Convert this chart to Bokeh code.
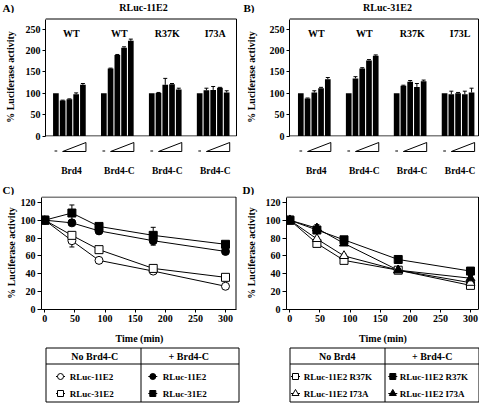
from bokeh.plotting import figure
from bokeh.models import Range1d, FixedTicker, Label
from bokeh.layouts import column, row
from bokeh.embed import file_html
from bokeh.resources import INLINE
from bokeh.core.properties import value

FONT = "Liberation Serif"

# ---------------- data: bar panels ----------------
title_a = "RLuc-11E2"
title_b = "RLuc-31E2"
heads_a = ["WT", "WT", "R37K", "I73A"]
heads_b = ["WT", "WT", "R37K", "I73L"]
feet = ["Brd4", "Brd4-C", "Brd4-C", "Brd4-C"]

a_brd4_wt = [100, 83, 86, 98, 120]
a_brd4c_wt = [100, 158, 190, 207, 223]
a_brd4c_r37k = [100, 101, 120, 121, 109]
a_brd4c_i73a = [100, 107, 108, 113, 102]
a_brd4_wt_err = [0, 1, 1, 3, 3]
a_brd4c_wt_err = [0, 1, 1, 2, 4]
a_brd4c_r37k_err = [0, 1, 15, 2, 3]
a_brd4c_i73a_err = [0, 5, 8, 1, 4]

b_brd4_wt = [100, 88, 102, 112, 133]
b_brd4c_wt = [100, 135, 158, 177, 188]
b_brd4c_r37k = [100, 118, 127, 115, 128]
b_brd4c_i73l = [100, 98, 100, 98, 102]
b_brd4_wt_err = [0, 1, 4, 2, 4]
b_brd4c_wt_err = [0, 4, 2, 2, 2]
b_brd4c_r37k_err = [0, 1, 3, 8, 3]
b_brd4c_i73l_err = [0, 7, 2, 7, 10]

bar_ticks = [0, 50, 100, 150, 200, 250]

# ---------------- data: time courses ----------------
time_min = [0, 45, 90, 180, 300]

c_11e2 = [100, 77, 55, 43, 26]
c_31e2 = [100, 83, 67, 46, 36]
c_11e2_brd4c = [100, 97, 88, 77, 65]
c_31e2_brd4c = [100, 108, 93, 83, 73]
c_11e2_err = [0, 7, 1, 2, 1]
c_31e2_err = [0, 3, 2, 3, 2]
c_11e2_brd4c_err = [0, 2, 2, 5, 3]
c_31e2_brd4c_err = [0, 9, 3, 9, 3]

d_r37k = [100, 74, 55, 44, 27]
d_i73a = [100, 79, 60, 44, 30]
d_r37k_brd4c = [100, 89, 78, 56, 43]
d_i73a_brd4c = [100, 91, 74, 44, 35]
d_r37k_err = [0, 2, 1, 1, 1]
d_i73a_err = [0, 2, 2, 1, 2]
d_r37k_brd4c_err = [0, 2, 2, 2, 2]
d_i73a_brd4c_err = [0, 4, 2, 2, 3]

line_yticks = [0, 20, 40, 60, 80, 100, 120]
line_xticks = [0, 50, 100, 150, 200, 250, 300]

legend_c_heads = ["No Brd4-C", "+ Brd4-C"]
legend_c_left = ["RLuc-11E2", "RLuc-31E2"]
legend_c_right = ["RLuc-11E2", "RLuc-31E2"]
legend_d_heads = ["No Brd4", "+ Brd4-C"]
legend_d_left = ["RLuc-11E2 R37K", "RLuc-11E2 I73A"]
legend_d_right = ["RLuc-11E2 R37K", "RLuc-11E2 I73A"]

panel_letters_top = ["A)", "B)"]
panel_letters_mid = ["C)", "D)"]

PPU_BAR_X = 6.75
PITCH = 7.1
BAR_W = 0.84


def base_fig(W, H, xr, yr, **kw):
    p = figure(width=W, height=H, x_range=xr, y_range=yr, output_backend="svg",
               toolbar_location=None, **kw)
    p.outline_line_color = None
    p.grid.visible = False
    p.background_fill_color = "white"
    p.border_fill_color = "white"
    return p


def style_axis(ax, tick_out, size):
    ax.axis_line_color = "black"
    ax.axis_line_width = 1
    ax.major_tick_in = 0
    ax.major_tick_out = tick_out
    ax.major_tick_line_color = "black"
    ax.minor_tick_line_color = None
    ax.major_label_text_font = FONT
    ax.major_label_text_font_style = "bold"
    ax.major_label_text_font_size = size
    ax.major_label_text_color = "black"
    ax.axis_label_text_font = FONT
    ax.axis_label_text_font_style = "bold"
    ax.axis_label_text_font_size = "10px"
    ax.axis_label_text_color = "black"


def txt(p, x, y, t, size, align="center"):
    p.text(x=x, y=y, text=t, text_font=value(FONT), text_font_style="bold",
           text_font_size=size, text_align=align, text_baseline="middle",
           text_color="black")


def strip(W, H, letters, letter_xs, titles, title_xs, y):
    p = base_fig(W, H, Range1d(0, W), Range1d(H, 0), x_axis_type=None, y_axis_type=None,
                 min_border_left=0, min_border_right=0, min_border_top=0, min_border_bottom=0)
    txt(p, letter_xs, [y] * len(letters), letters, "11px", align="left")
    if titles:
        txt(p, title_xs, [y] * len(titles), titles, "10px")
    return p


def bar_panel(heads, vals, errs, W, frame_l, frame_r, bar0_px, box_r_px, label_standoff):
    H = 128
    ft, fb, y0_in = 4, 123, 122.5
    ppu_y = 0.4268
    xr = Range1d((frame_l - bar0_px) / PPU_BAR_X, (frame_r - bar0_px) / PPU_BAR_X)
    yr = Range1d(-(fb - y0_in) / ppu_y, (y0_in - ft) / ppu_y)
    p = base_fig(W, H, xr, yr, x_axis_type=None,
                 min_border_left=frame_l, min_border_right=W - frame_r,
                 min_border_top=ft, min_border_bottom=H - fb)
    box_top = (y0_in - ft - 1.5) / ppu_y
    box_r = (box_r_px - bar0_px) / PPU_BAR_X
    style_axis(p.yaxis[0], 3, "10px")
    p.yaxis[0].ticker = FixedTicker(ticks=bar_ticks)
    p.yaxis[0].bounds = (0, box_top)
    p.yaxis[0].major_label_standoff = 2
    p.yaxis[0].axis_label = "% Luciferase activity"
    p.yaxis[0].axis_label_standoff = label_standoff

    # closed panel box (left side is the y axis)
    p.segment(x0=[xr.start, box_r, xr.start], y0=[box_top, box_top, 0],
              x1=[box_r, box_r, box_r], y1=[box_top, 0, 0],
              line_color="black", line_width=1)

    xs, tops, ex, e0, e1 = [], [], [], [], []
    for g, (v, e) in enumerate(zip(vals, errs)):
        for i, (vi, ei) in enumerate(zip(v, e)):
            x = g * PITCH + i
            xs.append(x)
            tops.append(vi)
            if ei > 0:
                ex.append(x); e0.append(vi); e1.append(vi + ei)
    p.quad(left=[x - BAR_W / 2 for x in xs], right=[x + BAR_W / 2 for x in xs],
           bottom=[0] * len(xs), top=tops, fill_color="black", line_color=None)
    p.segment(x0=ex, y0=e0, x1=ex, y1=e1, line_color="black", line_width=1)
    p.scatter(x=ex, y=e1, marker="dash", size=4, line_color="black", line_width=1)

    for g, h in enumerate(heads):
        p.add_layout(Label(x=g * PITCH + 2.3, y=240, text=h, text_font=FONT,
                           text_font_style="bold", text_font_size="10px",
                           text_align="center", text_baseline="middle",
                           text_color="black"))
    return p, xr


def wedge_strip(xr, W, frame_l, frame_r):
    H = 41
    p = base_fig(W, H, xr, Range1d(H, 0), x_axis_type=None, y_axis_type=None,
                 min_border_left=frame_l, min_border_right=W - frame_r,
                 min_border_top=0, min_border_bottom=0)
    gx = [g * PITCH for g in range(4)]
    p.patches(xs=[[x + 1.0, x + 4.45, x + 4.45] for x in gx],
              ys=[[10.0, 10.0, 1.0] for _ in gx],
              fill_color=None, line_color="black", line_width=1)
    p.segment(x0=[x - 0.2 for x in gx], y0=[9.5] * 4, x1=[x + 0.2 for x in gx],
              y1=[9.5] * 4, line_color="black", line_width=1)
    txt(p, [x + 2.3 for x in gx], [29.0] * 4, feet, "9.5px")
    return p


def line_panel(series, W, frame_l, frame_r, x0_px, box_r_px, label_standoff):
    H = 151
    ft, fb = 1, 114
    ppu_y, ppu_x = 0.8933, 0.6023
    xr = Range1d((frame_l - x0_px) / ppu_x, (frame_r - x0_px) / ppu_x)
    yr = Range1d(0, (fb - ft) / ppu_y)
    p = base_fig(W, H, xr, yr, min_border_left=frame_l, min_border_right=W - frame_r,
                 min_border_top=ft, min_border_bottom=H - fb)
    box_top = (fb - ft - 0.5) / ppu_y
    box_r = (box_r_px - x0_px) / ppu_x
    p.segment(x0=[xr.start, box_r], y0=[box_top, box_top], x1=[box_r, box_r], y1=[box_top, 0],
              line_color="black", line_width=1)
    style_axis(p.yaxis[0], 4, "10px")
    style_axis(p.xaxis[0], 3, "10px")
    p.yaxis.ticker = FixedTicker(ticks=line_yticks)
    p.yaxis.bounds = (0, box_top)
    p.yaxis.major_label_standoff = 2
    p.yaxis.axis_label = "% Luciferase activity"
    p.yaxis.axis_label_standoff = label_standoff
    p.xaxis.ticker = FixedTicker(ticks=line_xticks)
    p.xaxis.bounds = (xr.start, box_r)
    p.xaxis.major_label_standoff = 2
    p.xaxis.axis_label = "Time (min)"
    p.xaxis.axis_label_standoff = 8

    for ys, errs, marker, filled in series:
        p.line(time_min, ys, line_color="black", line_width=1)
        ex = [t for t, e in zip(time_min, errs) if e > 0]
        lo = [y - e for y, e in zip(ys, errs) if e > 0]
        hi = [y + e for y, e in zip(ys, errs) if e > 0]
        p.segment(x0=ex, y0=lo, x1=ex, y1=hi, line_color="black", line_width=1)
        p.scatter(x=ex + ex, y=lo + hi, marker="dash", size=5, line_color="black")
    for ys, errs, marker, filled in series:
        size = 9 if marker == "triangle" else 8
        p.scatter(time_min, ys, marker=marker, size=size, line_color="black",
                  line_width=1, fill_color="black" if filled else "white")
    return p


def legend_panel(W, box_l, box_r, div_x, head_xs, heads, mk_l, tx_l, mk_r, tx_r,
                 left_labels, left_marks, right_labels, right_marks):
    H = 57
    p = base_fig(W, H, Range1d(0, W), Range1d(H, 0), x_axis_type=None, y_axis_type=None,
                 min_border_left=0, min_border_right=0, min_border_top=0, min_border_bottom=0)
    top, bot, hl = 1.5, 55.5, 17.5
    p.multi_line(xs=[[box_l, box_r, box_r, box_l, box_l], [box_l, box_r], [div_x, div_x]],
                 ys=[[top, top, bot, bot, top], [hl, hl], [top, bot]],
                 line_color="black", line_width=1)
    txt(p, head_xs, [9.7, 9.7], heads, "10px")
    rows_y = [30.0, 47.0]
    for mk, tx, labels, marks, filled in [(mk_l, tx_l, left_labels, left_marks, False),
                                           (mk_r, tx_r, right_labels, right_marks, True)]:
        p.segment(x0=[mk - 4.5] * 2, y0=rows_y, x1=[mk + 4.5] * 2, y1=rows_y,
                  line_color="black", line_width=1)
        for y, m in zip(rows_y, marks):
            p.scatter([mk], [y], marker=m, size=7 if m == "triangle" else 6,
                      line_color="black", line_width=1,
                      fill_color="black" if filled else "white")
        txt(p, [tx] * 2, rows_y, labels, "9px", align="left")
    return p


s1 = strip(479, 13, panel_letters_top, [2, 243], [title_a, title_b], [143, 387], 7.0)
pa, xra = bar_panel(heads_a,
                    [a_brd4_wt, a_brd4c_wt, a_brd4c_r37k, a_brd4c_i73a],
                    [a_brd4_wt_err, a_brd4c_wt_err, a_brd4c_r37k_err, a_brd4c_i73a_err],
                    240, 45, 237, 55.4, 236.0, 7)
pb, xrb = bar_panel(heads_b,
                    [b_brd4_wt, b_brd4c_wt, b_brd4c_r37k, b_brd4c_i73l],
                    [b_brd4_wt_err, b_brd4c_wt_err, b_brd4c_r37k_err, b_brd4c_i73l_err],
                    239, 49, 239, 60.3, 238.0, 10)
wa = wedge_strip(xra, 240, 45, 237)
wb = wedge_strip(xrb, 239, 49, 239)
s2 = strip(479, 13, panel_letters_mid, [2, 242], [], [], 7.0)
pc = line_panel([(c_11e2, c_11e2_err, "circle", False),
                 (c_31e2, c_31e2_err, "square", False),
                 (c_11e2_brd4c, c_11e2_brd4c_err, "circle", True),
                 (c_31e2_brd4c, c_31e2_brd4c_err, "square", True)],
                240, 41, 237, 44.3, 235.5, 1)
pd_ = line_panel([(d_r37k, d_r37k_err, "square", False),
                  (d_i73a, d_i73a_err, "triangle", False),
                  (d_r37k_brd4c, d_r37k_brd4c_err, "square", True),
                  (d_i73a_brd4c, d_i73a_brd4c_err, "triangle", True)],
                 239, 46, 239, 49.3, 238.0, 6)

lc = legend_panel(240, 45.5, 238.5, 140.5, [94.3, 188.3], legend_c_heads,
                  60.0, 69.3, 152.3, 162.3,
                  legend_c_left, ["circle", "square"], legend_c_right, ["circle", "square"])
ld = legend_panel(239, 49.5, 238.5, 144.5, [96.7, 191.7], legend_d_heads,
                  55.0, 63.3, 152.3, 159.3,
                  legend_d_left, ["square", "triangle"], legend_d_right, ["square", "triangle"])

layout = column(s1, row(pa, pb), row(wa, wb), s2, row(pc, pd_), row(lc, ld))
open("out.html", "w").write(file_html(layout, INLINE))
